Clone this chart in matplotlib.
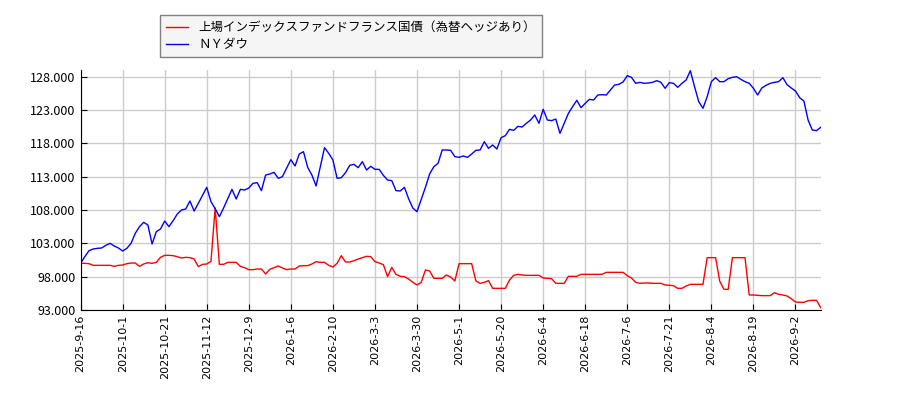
import matplotlib
matplotlib.use("Agg")
import matplotlib.pyplot as plt
from matplotlib.ticker import FuncFormatter, FixedLocator

plt.rcParams['font.family'] = ['Noto Sans CJK JP', 'DejaVu Sans']

tick_labels = ["2025-9-16", "2025-10-1", "2025-10-21", "2025-11-12", "2025-12-9",
               "2026-1-6", "2026-2-10", "2026-3-3", "2026-3-30", "2026-5-1",
               "2026-5-20", "2026-6-4", "2026-6-18", "2026-7-6", "2026-7-21",
               "2026-8-4", "2026-8-19", "2026-9-2"]

y_ticks = [93000, 98000, 103000, 108000, 113000, 118000, 123000, 128000]

fund = [100000, 100000, 99950, 99700, 99700, 99700, 99700, 99700, 99550, 99700,
        99750, 99950, 100050, 100050, 99550, 99900, 100100, 100000, 100150, 100900,
        101200, 101200, 101150, 101000, 100800, 100900, 100850, 100650, 99500, 99850,
        99900, 100300, 108300, 99850, 99850, 100150, 100150, 100150, 99550, 99350,
        99050, 99050, 99150, 99150, 98400, 99100, 99350, 99600, 99300, 99050,
        99150, 99150, 99600, 99650, 99650, 99900, 100250, 100150, 100150, 99700,
        99450, 100000, 101150, 100200, 100200, 100400, 100650, 100850, 101050, 101000,
        100250, 100050, 99800, 98000, 99400, 98350, 98050, 98000, 97650, 97150,
        96750, 97150, 99000, 98850, 97750, 97750, 97750, 98250, 97950, 97350,
        99950, 99950, 99950, 99950, 97350, 97000, 97150, 97400, 96250, 96250,
        96250, 96250, 97500, 98200, 98350, 98250, 98200, 98200, 98200, 98200,
        97800, 97750, 97700, 97000, 97000, 97000, 98050, 98050, 98050, 98350,
        98350, 98350, 98350, 98350, 98350, 98650, 98650, 98650, 98650, 98650,
        98150, 97800, 97150, 97000, 97050, 97050, 97000, 97000, 97000, 96750,
        96700, 96650, 96250, 96250, 96600, 96850, 96850, 96850, 96850, 100850,
        100850, 100850, 97300, 96100, 96100, 100850, 100850, 100850, 100850, 95250,
        95250, 95200, 95150, 95150, 95150, 95600, 95350, 95250, 95100, 94700,
        94200, 94150, 94150, 94400, 94450, 94450, 93350]

dow = [100000, 101000, 101900, 102150, 102250, 102300, 102700, 103000, 102600, 102300,
       101850, 102250, 103000, 104500, 105500, 106150, 105750, 102900, 104750, 105150,
       106350, 105500, 106400, 107400, 108000, 108150, 109350, 107850, 109000, 110200,
       111400, 109250, 108200, 107000, 108300, 109700, 111100, 109650, 111100, 111000,
       111300, 112000, 112100, 110900, 113250, 113400, 113650, 112750, 113000, 114300,
       115550, 114600, 116400, 116750, 114400, 113250, 111600, 114500, 117350, 116500,
       115500, 112750, 112850, 113600, 114700, 114850, 114350, 115250, 114000, 114550,
       114100, 114100, 113200, 112500, 112400, 110900, 110850, 111400, 109700, 108300,
       107750, 109600, 111400, 113400, 114500, 115000, 117000, 117000, 116950, 116000,
       115900, 116100, 115900, 116400, 116950, 117000, 118250, 117250, 117750, 117150,
       118850, 119150, 120100, 119950, 120550, 120450, 121000, 121500, 122250, 121000,
       123100, 121500, 121400, 121650, 119500, 121000, 122500, 123500, 124450, 123350,
       124000, 124600, 124500, 125250, 125300, 125250, 126000, 126750, 126850, 127200,
       128150, 127900, 127000, 127150, 127000, 127050, 127150, 127400, 127150, 126250,
       127100, 127000, 126400, 127000, 127500, 128900, 126500, 124250, 123250, 125000,
       127250, 127850, 127250, 127250, 127700, 127900, 128000, 127600, 127250, 127000,
       126250, 125250, 126300, 126700, 127000, 127150, 127250, 127850, 126800, 126300,
       125850, 124850, 124350, 121500, 120000, 119900, 120400]

series_names = ["上場インデックスファンドフランス国債（為替ヘッジあり）", "ＮＹダウ"]

fig = plt.figure(figsize=(9, 4), dpi=100)
ax = fig.add_axes([80.6 / 900, 90 / 400, (820.7 - 80.6) / 900, 240 / 400])

x = list(range(len(fund)))
ax.plot(x, fund, color='red', lw=1, label=series_names[0])
ax.plot(x, dow, color='blue', lw=1, label=series_names[1])

ax.set_xlim(0, len(fund) - 1)
ax.set_ylim(93000, 129000)
ax.set_xticks([i * 10 for i in range(len(tick_labels))])
ax.set_xticklabels(tick_labels, rotation=90, fontsize=8, family=['DejaVu Sans'])
ax.yaxis.set_major_locator(FixedLocator(y_ticks))
ax.yaxis.set_major_formatter(FuncFormatter(lambda v, p: f"{int(v):,}".replace(',', '.')))
ax.tick_params(axis='both', direction='in', length=4, color='black')
ax.tick_params(axis='y', labelsize=9)
ax.grid(True, color='#cccccc', lw=1)
ax.set_axisbelow(True)
for s in ['top', 'right']:
    ax.spines[s].set_visible(False)

leg = fig.legend(loc='upper left', bbox_to_anchor=(154 / 900, 1 - 9 / 400), fontsize=9,
                 frameon=True, fancybox=False, edgecolor='#808080', facecolor='#f5f5f5',
                 borderpad=0.45, labelspacing=0.35, handlelength=1.8, framealpha=1)
leg.get_frame().set_linewidth(1)

fig.savefig("out.png", dpi=100)
